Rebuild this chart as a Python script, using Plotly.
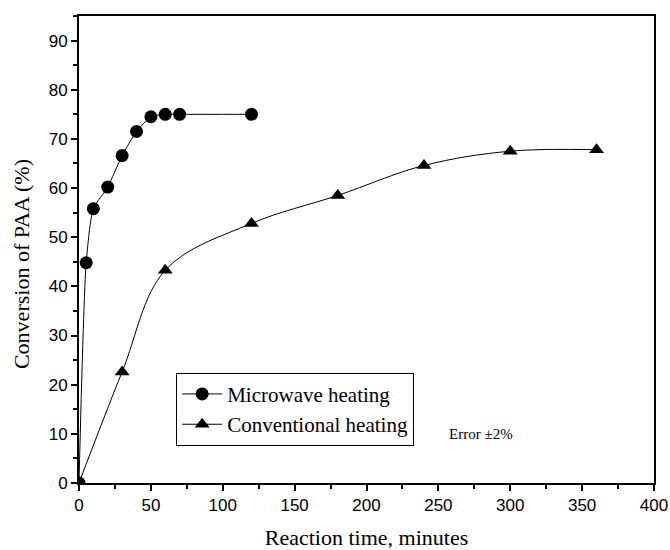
import plotly.graph_objects as go

mw_time = [0, 5, 10, 20, 30, 40, 50, 60, 70, 120]
mw_conv = [0, 44.8, 55.8, 60.2, 66.6, 71.5, 74.5, 75.0, 75.0, 75.0]

cv_time = [0, 30, 60, 120, 180, 240, 300, 360]
cv_conv = [0, 22.6, 43.3, 52.8, 58.5, 64.6, 67.5, 67.8]

fig = go.Figure()
fig.add_trace(go.Scatter(
    x=mw_time, y=mw_conv, mode="lines+markers", name="Microwave heating",
    line=dict(color="black", width=1, shape="spline", smoothing=0.6),
    marker=dict(symbol="circle", size=13, color="black"),
))
fig.add_trace(go.Scatter(
    x=cv_time, y=cv_conv, mode="lines+markers", name="Conventional heating",
    line=dict(color="black", width=1, shape="spline", smoothing=1.0),
    marker=dict(symbol="triangle-up", size=13, color="black"),
))

axis_common = dict(
    showline=True, linecolor="black", linewidth=2, mirror=True,
    ticks="outside", ticklen=6, tickwidth=1.5, tickcolor="black",
    showgrid=False, zeroline=False, automargin=False,
    tickfont=dict(family="Liberation Sans, Arial", size=17, color="black"),
)
fig.update_xaxes(
    range=[0, 400], tick0=0, dtick=50,
    minor=dict(ticks="outside", ticklen=4, tickwidth=1.5, tickcolor="black", dtick=25),
    title=dict(text="Reaction time, minutes", standoff=16,
               font=dict(family="Liberation Serif, Times New Roman", size=22, color="black")),
    **axis_common,
)
fig.update_yaxes(
    range=[0, 95], tick0=0, dtick=10,
    minor=dict(ticks="outside", ticklen=4, tickwidth=1.5, tickcolor="black", dtick=5),
    **axis_common,
)
fig.add_annotation(
    x=-0.099, y=0.469, xref="paper", yref="paper", xanchor="center", yanchor="middle",
    text="Conversion of PAA (%)", textangle=-90, showarrow=False,
    font=dict(family="Liberation Serif, Times New Roman", size=22, color="black"),
)
fig.add_annotation(
    x=0.64, y=0.105, xref="paper", yref="paper", xanchor="left", yanchor="middle",
    text="Error ±2%", showarrow=False,
    font=dict(family="Liberation Serif, Times New Roman", size=15, color="black"),
)
fig.update_layout(
    width=670, height=550,
    margin=dict(l=79, r=16, t=16, b=67),
    plot_bgcolor="white", paper_bgcolor="white",
    legend=dict(
        x=0.169, y=0.236, xanchor="left", yanchor="top",
        bordercolor="black", borderwidth=1, bgcolor="white",
        font=dict(family="Liberation Serif, Times New Roman", size=21, color="black"),
        tracegroupgap=0, itemwidth=40,
    ),
)
fig.write_html("out.html", config={"displayModeBar": False},
               post_script="document.body.style.margin='0';document.body.style.overflow='hidden';")
